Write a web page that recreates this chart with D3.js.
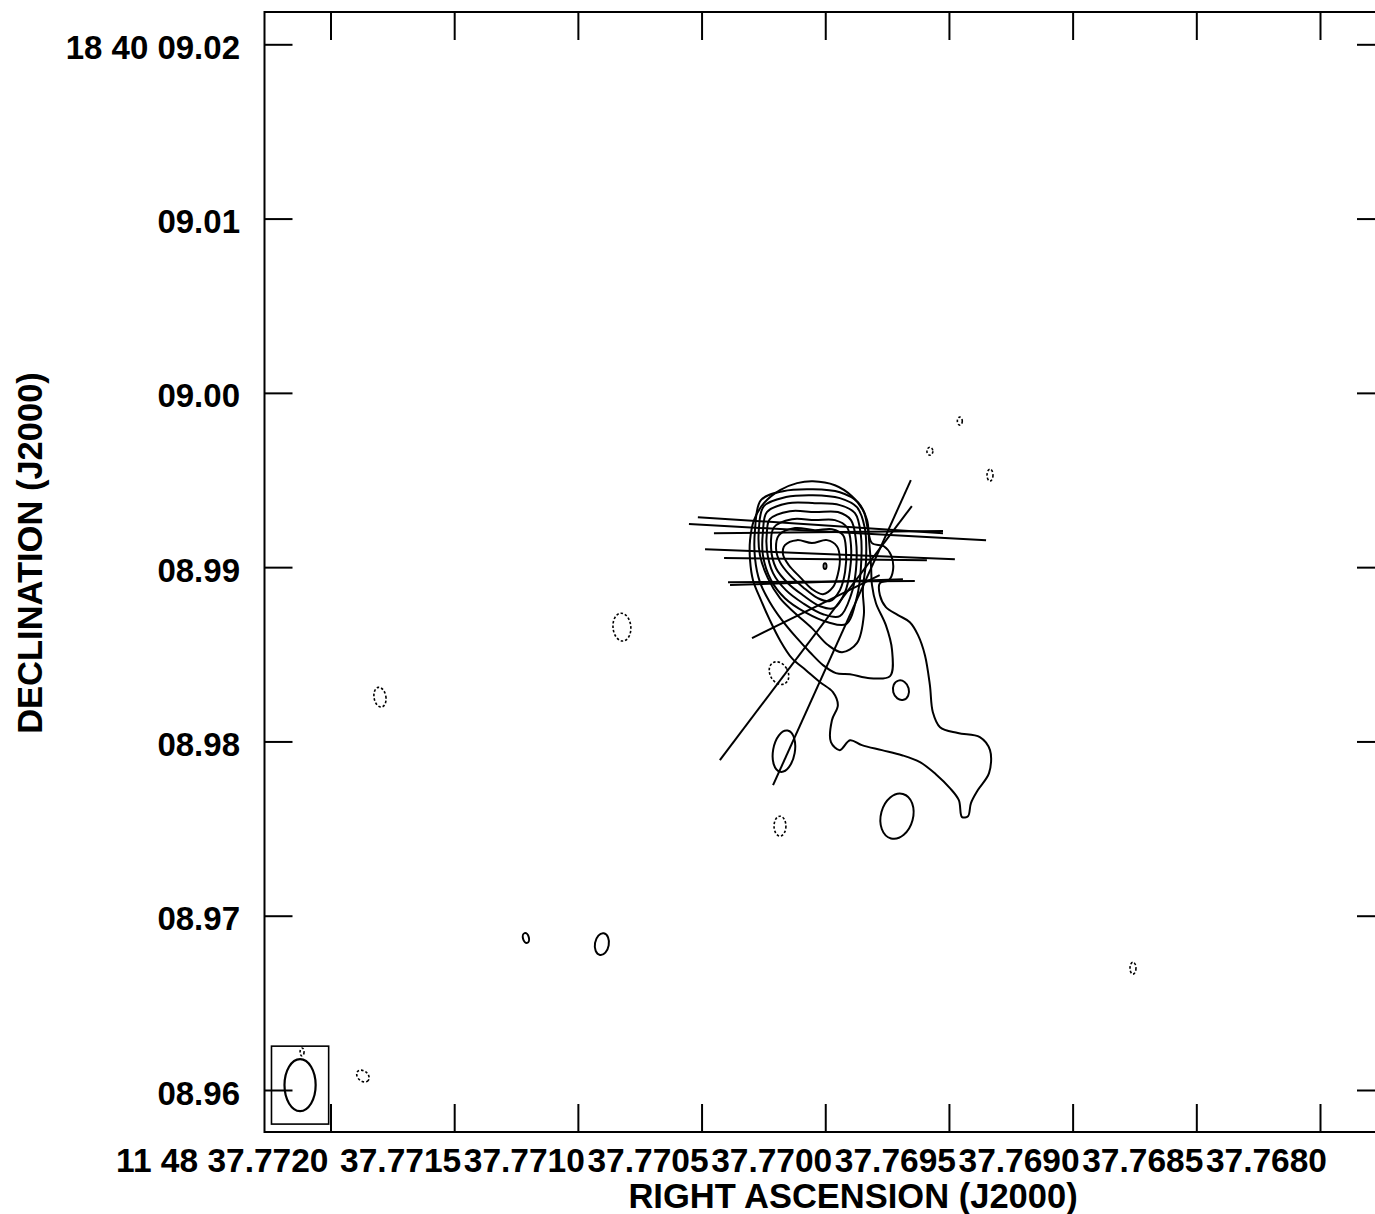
<!DOCTYPE html>
<html>
<head>
<meta charset="utf-8">
<script src="https://cdn.jsdelivr.net/npm/d3@7"></script>
<style>
    body { margin: 0; background: #fff; }
    svg { display: block; }
    text { font-family: "Liberation Sans", Arial, Helvetica, sans-serif; font-weight: bold; fill: #000; }
</style>
</head>
<body>
<svg></svg>
<script>
// RA offset in units of 0.0001 s from 11 48 37.7700, Dec offset in mas from 18 40 08.990
const
    raTicks = [20, 15, 10, 5, 0, -5, -10, -15, -20],
    raLabels = ["11 48 37.7720", "37.7715", "37.7710", "37.7705", "37.7700", "37.7695", "37.7690", "37.7685", "37.7680"],
    decTicks = [30, 20, 10, 0, -10, -20, -30],
    decLabels = ["18 40 09.02", "09.01", "09.00", "08.99", "08.98", "08.97", "08.96"]

// contour polylines, outer level first, [raOff, decOff]
const contourL1 = [[1.83, 4.42], [1.14, 4.82], [0.50, 4.93], [-0.39, 4.70], [-1.08, 4.07], [-1.56, 3.16], [-1.73, 2.12], [-1.89, 1.38], [-2.37, 1.20], [-2.66, 0.69], [-2.74, -0.17], [-2.57, -0.75], [-2.21, -0.92], [-2.21, -1.61], [-2.45, -2.29], [-2.94, -2.75], [-3.42, -3.16], [-3.75, -3.90], [-4.03, -5.05], [-4.23, -6.77], [-4.35, -8.32], [-4.64, -9.18], [-5.36, -9.52], [-6.25, -9.75], [-6.66, -10.50], [-6.62, -11.82], [-6.17, -12.79], [-5.89, -13.54], [-5.77, -14.29], [-5.53, -14.34], [-5.40, -13.37], [-5.04, -12.68], [-4.47, -11.88], [-3.83, -11.19], [-3.10, -10.79], [-2.29, -10.50], [-1.48, -10.21], [-1.00, -9.93], [-0.59, -10.50], [-0.23, -10.04], [-0.27, -8.78], [-0.51, -7.92], [-0.31, -7.17], [0.21, -6.60], [0.78, -5.91], [1.35, -5.22], [1.83, -4.19], [2.24, -3.04], [2.60, -1.89], [2.92, -0.75], [3.04, 0.40], [3.04, 1.55], [2.88, 2.70], [2.48, 3.67]]
const contourL2 = [[2.60, 3.84], [1.71, 4.36], [0.50, 4.47], [-0.59, 4.30], [-1.32, 3.73], [-1.69, 2.70], [-1.77, 1.55], [-1.85, 0.11], [-1.89, -1.03], [-2.05, -2.07], [-2.45, -3.33], [-2.70, -4.76], [-2.62, -6.25], [-1.81, -6.37], [-1.00, -6.14], [-0.43, -6.08], [0.09, -5.62], [0.62, -4.88], [1.18, -4.02], [1.75, -3.04], [2.24, -2.01], [2.64, -0.86], [2.84, 0.52], [2.84, 2.12]]
const contourL3 = [[2.48, 3.50], [1.59, 4.02], [0.50, 4.13], [-0.59, 3.96], [-1.28, 3.44], [-1.60, 2.24], [-1.65, 0.40], [-1.52, -1.32], [-1.56, -2.75], [-1.28, -4.36], [-0.68, -4.88], [-0.11, -4.47], [0.54, -3.50], [1.22, -2.64], [1.83, -1.78], [2.32, -0.63], [2.64, 0.69], [2.68, 2.24]]
const contourL4 = [[2.36, 3.16], [1.51, 3.67], [0.42, 3.67], [-0.59, 3.56], [-1.20, 3.10], [-1.44, 1.84], [-1.44, -0.06], [-1.28, -1.72], [-0.84, -3.27], [-0.11, -3.16], [0.82, -2.58], [1.63, -1.78], [2.19, -0.75], [2.52, 0.69], [2.52, 2.01]]
const contourL5 = [[2.24, 2.75], [1.43, 3.21], [0.42, 3.16], [-0.51, 3.16], [-1.04, 2.70], [-1.24, 1.55], [-1.24, -0.17], [-1.04, -1.61], [-0.59, -2.81], [0.09, -2.70], [0.90, -2.07], [1.59, -1.32], [2.11, -0.34], [2.36, 0.98], [2.36, 2.01]]
const contourL6 = [[2.07, 2.29], [1.35, 2.75], [0.42, 2.70], [-0.39, 2.70], [-0.88, 2.29], [-1.04, 1.26], [-1.00, -0.17], [-0.80, -1.43], [-0.35, -2.35], [0.21, -2.24], [0.90, -1.61], [1.51, -0.92], [1.99, -0.06], [2.19, 1.09]]
const contourL7 = [[1.87, 1.84], [1.22, 2.24], [0.42, 2.12], [-0.27, 2.18], [-0.72, 1.84], [-0.84, 0.98], [-0.80, -0.29], [-0.59, -1.32], [-0.19, -1.95], [0.30, -1.78], [0.90, -1.15], [1.43, -0.46], [1.83, 0.29], [1.99, 1.09]]
const contourL8 = [[1.63, 1.26], [1.14, 1.55], [0.54, 1.38], [-0.07, 1.55], [-0.47, 1.20], [-0.59, 0.52], [-0.51, -0.40], [-0.31, -1.15], [0.09, -1.55], [0.54, -1.26], [1.02, -0.57], [1.47, 0.11], [1.71, 0.75]]
const contours = [contourL1, contourL2, contourL3, contourL4, contourL5, contourL6, contourL7, contourL8]

// small closed contours: [raOff, decOff, semi-axis ra, semi-axis dec, tilt deg]
const positiveBlobs = [[0.01, 0.06, 0.06, 0.17, 0], [-3.06, -7.06, 0.32, 0.57, -15], [1.67, -10.56, 0.44, 1.20, 10], [-2.90, -14.29, 0.65, 1.32, 15], [9.03, -21.63, 0.28, 0.63, 10], [12.10, -21.28, 0.12, 0.29, -15]]
const negativeBlobs = [[8.22, -3.44, 0.36, 0.80, -5], [1.87, -6.08, 0.36, 0.69, -30], [1.83, -14.86, 0.24, 0.57, 0], [18.00, -7.46, 0.24, 0.57, -10], [18.69, -29.20, 0.28, 0.29, 40], [21.15, -27.82, 0.08, 0.23, 0], [-5.44, 8.38, 0.10, 0.23, 0], [-4.23, 6.65, 0.12, 0.23, 0], [-6.66, 5.28, 0.12, 0.34, 0], [-12.44, -23.01, 0.12, 0.34, 0]]

// polarization vectors [ra1, dec1, ra2, dec2]
const vectors = [[5.15, 2.87, -4.76, 1.95], [5.51, 2.47, -6.50, 1.55], [4.50, 1.95, -4.76, 2.07], [4.86, 1.03, -5.24, 0.46], [4.09, 0.52, -4.11, 0.40], [3.93, -0.86, -3.62, -0.80], [3.85, -1.03, -3.14, -0.69], [2.96, -4.07, -2.20, -0.46], [4.26, -11.07, -3.50, 3.50], [2.11, -12.51, -3.46, 4.99]]

// restoring beam [raOff, decOff, semi-axis ra, semi-axis dec]
const beam = [21.23, -29.72, 0.63, 1.49]

const
    width = 1375,
    height = 1214,
    frame = { left: 264.5, top: 12, right: 1385, bottom: 1132 },
    tickLen = 28

const x = d3.scaleLinear().domain([20, -20]).range([330.5, 1320])
const y = d3.scaleLinear().domain([30, -30]).range([44.3, 1090])

const svg = d3.select("svg")
    .attr("width", width)
    .attr("height", height)
    .attr("viewBox", [0, 0, width, height])

const plot = svg.append("g")

// frame
plot.append("rect")
    .attr("x", frame.left)
    .attr("y", frame.top)
    .attr("width", frame.right - frame.left)
    .attr("height", frame.bottom - frame.top)
    .attr("fill", "none")
    .attr("stroke", "#000")
    .attr("stroke-width", 2)

const tidy = g => g.call(g => g.select(".domain").remove())
    .call(g => g.selectAll("line").attr("stroke", "#000").attr("stroke-width", 2))
    .call(g => g.selectAll("text").remove())

plot.append("g").attr("transform", `translate(0,${frame.bottom})`)
    .call(d3.axisBottom(x).tickValues(raTicks).tickSize(-tickLen)).call(tidy)
plot.append("g").attr("transform", `translate(0,${frame.top})`)
    .call(d3.axisTop(x).tickValues(raTicks).tickSize(-tickLen)).call(tidy)
plot.append("g").attr("transform", `translate(${frame.left},0)`)
    .call(d3.axisLeft(y).tickValues(decTicks).tickSize(-tickLen)).call(tidy)
plot.append("g").attr("transform", `translate(${frame.right},0)`)
    .call(d3.axisRight(y).tickValues(decTicks).tickSize(-tickLen)).call(tidy)

// tick labels
svg.append("g").selectAll("text")
    .data(raTicks)
    .join("text")
    .attr("x", (d, i) => x(d) + (i === 0 ? -2 : 7))
    .attr("y", 1172)
    .attr("text-anchor", "end")
    .attr("font-size", 33.5)
    .text((d, i) => raLabels[i])

svg.append("g").selectAll("text")
    .data(decTicks)
    .join("text")
    .attr("x", 240)
    .attr("y", d => y(d) + 14.5)
    .attr("text-anchor", "end")
    .attr("font-size", 33)
    .text((d, i) => decLabels[i])

svg.append("text")
    .attr("x", 853)
    .attr("y", 1208)
    .attr("text-anchor", "middle")
    .attr("font-size", 34.5)
    .text("RIGHT ASCENSION (J2000)")

svg.append("text")
    .attr("transform", "translate(42,553) rotate(-90)")
    .attr("text-anchor", "middle")
    .attr("font-size", 34.5)
    .text("DECLINATION (J2000)")

// contours
const line = d3.line()
    .x(d => x(d[0]))
    .y(d => y(d[1]))
    .curve(d3.curveCatmullRomClosed.alpha(0.5))

plot.append("g")
    .selectAll("path")
    .data(contours)
    .join("path")
    .attr("d", line)
    .attr("fill", "none")
    .attr("stroke", "#000")
    .attr("stroke-width", 2)

const sx = v => Math.abs(x(v) - x(0)),
    sy = v => Math.abs(y(v) - y(0))

const blobs = (data, dashed) => plot.append("g")
    .selectAll("ellipse")
    .data(data)
    .join("ellipse")
    .attr("cx", d => x(d[0]))
    .attr("cy", d => y(d[1]))
    .attr("rx", d => sx(d[2]))
    .attr("ry", d => sy(d[3]))
    .attr("transform", d => `rotate(${d[4]},${x(d[0])},${y(d[1])})`)
    .attr("fill", "none")
    .attr("stroke", "#000")
    .attr("stroke-width", dashed ? 1.6 : 2)
    .attr("stroke-dasharray", dashed ? "2.5,2" : null)

blobs(positiveBlobs, false)
blobs(negativeBlobs, true)

// polarization vectors
plot.append("g")
    .selectAll("line")
    .data(vectors)
    .join("line")
    .attr("x1", d => x(d[0]))
    .attr("y1", d => y(d[1]))
    .attr("x2", d => x(d[2]))
    .attr("y2", d => y(d[3]))
    .attr("stroke", "#000")
    .attr("stroke-width", 2)

// beam
const bx = x(beam[0]), by = y(beam[1]), brx = sx(beam[2]), bry = sy(beam[3]), pad = 13
plot.append("rect")
    .attr("x", bx - brx - pad)
    .attr("y", by - bry - pad)
    .attr("width", 2 * (brx + pad))
    .attr("height", 2 * (bry + pad))
    .attr("fill", "none")
    .attr("stroke", "#000")
    .attr("stroke-width", 1.6)
plot.append("ellipse")
    .attr("cx", bx)
    .attr("cy", by)
    .attr("rx", brx)
    .attr("ry", bry)
    .attr("fill", "none")
    .attr("stroke", "#000")
    .attr("stroke-width", 2.2)
</script>
</body>
</html>
